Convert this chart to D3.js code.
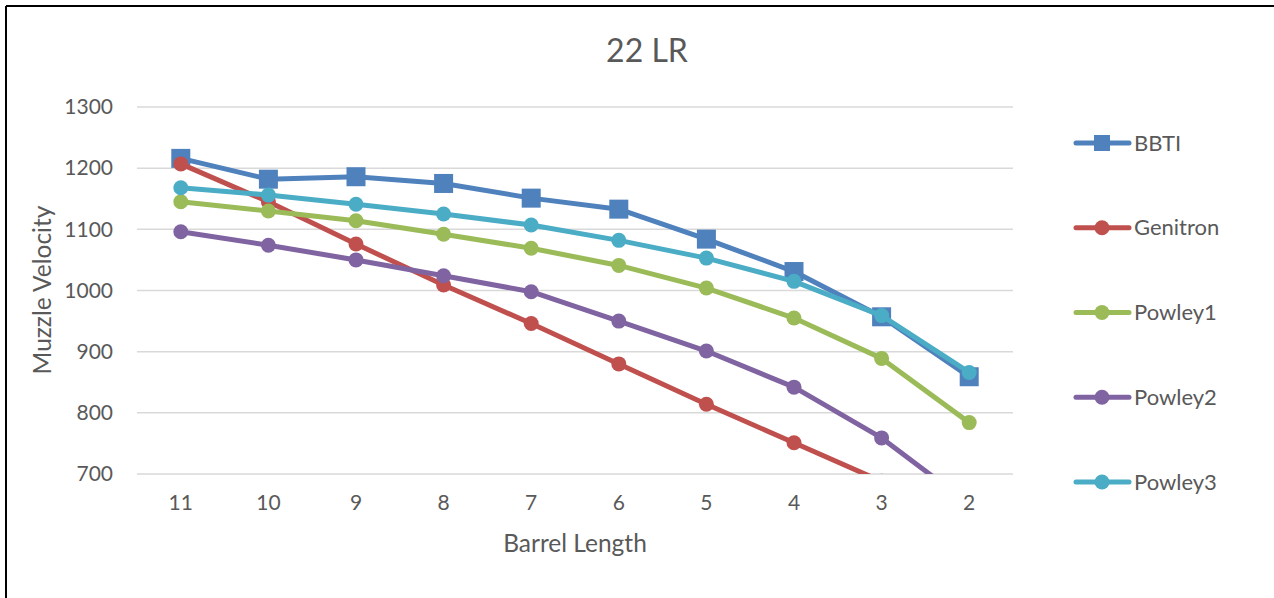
<!DOCTYPE html>
<html><head><meta charset="utf-8">
<script src="https://cdn.jsdelivr.net/npm/d3@7"></script>
<style>html,body{margin:0;padding:0;background:#fff;}svg{display:block;}</style>
</head><body>
<script>
const categories = ["11","10","9","8","7","6","5","4","3","2"];
const seriesNames = ["BBTI","Genitron","Powley1","Powley2","Powley3"];
const bbti     = [1216,1182,1186,1175,1151,1133,1084,1031,957,859];
const genitron = [1207,1145,1076,1009,946,880,814,751,688,625];
const powley1  = [1145,1130,1114,1092,1069,1041,1004,955,889,784];
const powley2  = [1096,1074,1050,1024,998,950,901,842,759,651];
const powley3  = [1168,1156,1141,1125,1107,1082,1053,1015,959,866];
const yTicks   = [700,800,900,1000,1100,1200,1300];
const colors   = ["#4F81BD","#C0504D","#9BBB59","#8064A2","#4BACC6"];
const markers  = ["square","circle","circle","circle","circle"];
const seriesValues = [bbti,genitron,powley1,powley2,powley3];

const W=1274,H=598;
const font="Lato, 'Open Sans', sans-serif";
const txt="#595959";
const svg=d3.select("body").append("svg").attr("width",W).attr("height",H);

// border (top and left visible)
svg.append("line").attr("x1",6).attr("x2",W).attr("y1",6).attr("y2",6).attr("stroke","#000").attr("stroke-width",2);
svg.append("line").attr("x1",6).attr("x2",6).attr("y1",6).attr("y2",H).attr("stroke","#000").attr("stroke-width",2);

const x=d3.scaleBand().domain(categories).range([137,1013]);
const y=d3.scaleLinear().domain([700,1300]).range([474,107]);

// gridlines
svg.append("g").selectAll("line").data(yTicks).join("line")
  .attr("x1",137).attr("x2",1013).attr("y1",d=>y(d)).attr("y2",d=>y(d))
  .attr("stroke","#D9D9D9").attr("stroke-width",1.5);

// y axis labels
const yAxis=svg.append("g").attr("transform","translate(113,0)")
  .call(d3.axisLeft(y).tickValues(yTicks).tickFormat(d3.format("d")).tickSize(0).tickPadding(0));
yAxis.select(".domain").remove();
yAxis.selectAll("text").attr("font-family",font).attr("font-size",21).attr("fill",txt);

// x axis labels
const xAxis=svg.append("g").attr("transform","translate(0,491)")
  .call(d3.axisBottom(x).tickSize(0).tickPadding(0));
xAxis.select(".domain").remove();
xAxis.selectAll("text").attr("font-family",font).attr("font-size",21).attr("fill",txt).attr("dy","0.9em");

// titles
svg.append("text").attr("x",647).attr("y",62).attr("text-anchor","middle")
  .attr("font-family",font).attr("font-size",32).attr("fill",txt).text("22 LR");
svg.append("text").attr("x",575).attr("y",552).attr("text-anchor","middle")
  .attr("font-family",font).attr("font-size",24.5).attr("fill",txt).text("Barrel Length");
svg.append("text").attr("transform","translate(51,290) rotate(-90)").attr("text-anchor","middle")
  .attr("font-family",font).attr("font-size",24.5).attr("fill",txt).text("Muzzle Velocity");

// clip
svg.append("clipPath").attr("id","plotclip").append("rect")
  .attr("x",120).attr("y",90).attr("width",920).attr("height",474-90);

const plot=svg.append("g").attr("clip-path","url(#plotclip)");
const cx=c=>x(c)+x.bandwidth()/2;
const line=d3.line().x((d,i)=>cx(categories[i])).y(d=>y(d));

seriesValues.forEach((vals,si)=>{
  const g=plot.append("g");
  g.append("path").attr("d",line(vals)).attr("fill","none")
    .attr("stroke",colors[si]).attr("stroke-width",5).attr("stroke-linejoin","round").attr("stroke-linecap","round");
  if(markers[si]==="square"){
    g.selectAll("rect").data(vals).join("rect")
      .attr("x",(d,i)=>cx(categories[i])-9.5).attr("y",d=>y(d)-9.5)
      .attr("width",19).attr("height",19).attr("fill",colors[si]);
  } else {
    g.selectAll("circle").data(vals).join("circle")
      .attr("cx",(d,i)=>cx(categories[i])).attr("cy",d=>y(d)).attr("r",7.5).attr("fill",colors[si]);
  }
});

// legend
const legY=d3.scalePoint().domain(seriesNames).range([143,482]);
seriesNames.forEach((n,si)=>{
  const ly=legY(n);
  const g=svg.append("g");
  g.append("line").attr("x1",1076).attr("x2",1129).attr("y1",ly).attr("y2",ly)
    .attr("stroke",colors[si]).attr("stroke-width",5).attr("stroke-linecap","round");
  if(markers[si]==="square"){
    g.append("rect").attr("x",1102-8).attr("y",ly-8).attr("width",16).attr("height",16).attr("fill",colors[si]);
  } else {
    g.append("circle").attr("cx",1102).attr("cy",ly).attr("r",7.5).attr("fill",colors[si]);
  }
  g.append("text").attr("x",1134).attr("y",ly).attr("dy","0.35em")
    .attr("font-family",font).attr("font-size",22).attr("fill",txt).text(n);
});
</script>
</body></html>
